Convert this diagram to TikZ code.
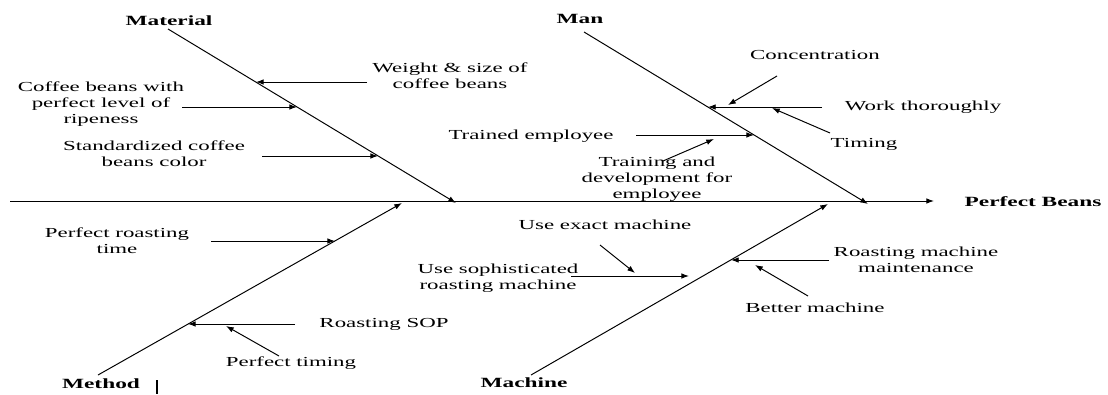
\documentclass[tikz,border=0pt]{standalone}
\usepackage{fontspec}
\setmainfont[FakeStretch=1.66]{Liberation Serif}
\usetikzlibrary{arrows.meta,positioning,calc}

\begin{document}
\begin{tikzpicture}[x=0.025cm,y=-0.025cm,
			cause/.style={align=center,inner sep=0pt,font=\fontsize{9.8}{11.4}\selectfont},
			cat/.style={inner sep=0pt,font=\fontsize{10}{11.4}\selectfont\bfseries},
			bone/.style={-{Latex[length=5.5pt,width=4pt]},line width=0.7pt},
			flow/.style={-{Latex[length=5.5pt,width=4pt]},line width=0.7pt}
			]
			\useasboundingbox (0,0) rectangle (1108,394);
			% spine and effect
			\coordinate (s0) at (10,201);
			\coordinate (s1) at (934,201);
			\node[cat] (eff) at (1033,202) {Perfect Beans};
			\draw[bone] (s0) -- (s1);
			% main bones
			\coordinate (maS) at (168,29);  \coordinate (maE) at (456,203);
			\coordinate (mnS) at (584,32);  \coordinate (mnE) at (868,204);
			\coordinate (mdS) at (98,375);  \coordinate (mdE) at (402,203);
			\coordinate (mcS) at (531,375); \coordinate (mcE) at (828,204);
			\node[cat] (mat) at (169,21) {Material};
			\node[cat] (man) at (580,19) {Man};
			\node[cat] (mtd) at (101,384) {Method};
			\node[cat] (mch) at (524,383) {Machine};
			\draw[bone] (maS) -- (maE);
			\draw[bone] (mnS) -- (mnE);
			\draw[bone] (mdS) -- (mdE);
			\draw[bone] (mcS) -- (mcE);
			% material
			\node[cause] (wgt) at (450,76) {Weight \& size of\\coffee beans};
			\node[cause] (rip) at (101,104) {Coffee beans with\\perfect level of\\ripeness};
			\node[cause] (col) at (154,154) {Standardized coffee\\beans color};
			\coordinate (wgtA) at (367,82);  \coordinate (wgtB) at (256,82);
			\coordinate (ripA) at (182,107); \coordinate (ripB) at (297,107);
			\coordinate (colA) at (262,156); \coordinate (colB) at (378,156);
			\draw[flow] (wgtA) -- (wgtB);
			\draw[flow] (ripA) -- (ripB);
			\draw[flow] (colA) -- (colB);
			% man
			\node[cause] (con) at (815,55) {Concentration};
			\node[cause] (wrk) at (923,107) {Work thoroughly};
			\node[cause] (tim) at (864,144) {Timing};
			\node[cause] (trn) at (531,136) {Trained employee};
			\node[cause] (dev) at (657,179) {Training and\\development for\\employee};
			\coordinate (wrkA) at (822,107); \coordinate (wrkB) at (708,107);
			\coordinate (conA) at (777,76);  \coordinate (conB) at (728,105);
			\coordinate (timA) at (830,133); \coordinate (timB) at (772,108);
			\coordinate (trnA) at (636,135); \coordinate (trnB) at (754,135);
			\coordinate (devA) at (663,161); \coordinate (devB) at (714,139);
			\draw[flow] (wrkA) -- (wrkB);
			\draw[flow] (conA) -- (conB);
			\draw[flow] (timA) -- (timB);
			\draw[flow] (trnA) -- (trnB);
			\draw[flow] (devA) -- (devB);
			% method
			\node[cause] (rst) at (117,241) {Perfect roasting\\time};
			\node[cause] (sop) at (384,324) {Roasting SOP};
			\node[cause] (ptm) at (291,363) {Perfect timing};
			\coordinate (rstA) at (211,241); \coordinate (rstB) at (335,241);
			\coordinate (sopA) at (295,324); \coordinate (sopB) at (188,324);
			\coordinate (ptmA) at (279,356); \coordinate (ptmB) at (226,326);
			\draw[flow] (rstA) -- (rstB);
			\draw[flow] (sopA) -- (sopB);
			\draw[flow] (ptmA) -- (ptmB);
			\coordinate (tk0) at (157,380); \coordinate (tk1) at (157,394);
			\draw[line width=0.8pt] (tk0) -- (tk1);
			% machine
			\node[cause] (exa) at (605,225) {Use exact machine};
			\node[cause] (sph) at (498,278) {Use sophisticated\\roasting machine};
			\node[cause] (mnt) at (916,260) {Roasting machine\\maintenance};
			\node[cause] (bet) at (815,308) {Better machine};
			\coordinate (mntA) at (829,260); \coordinate (mntB) at (731,260);
			\coordinate (betA) at (808,296); \coordinate (betB) at (755,265);
			\coordinate (sphA) at (571,276); \coordinate (sphB) at (689,276);
			\coordinate (exaA) at (600,245); \coordinate (exaB) at (635,273);
			\draw[flow] (mntA) -- (mntB);
			\draw[flow] (betA) -- (betB);
			\draw[flow] (sphA) -- (sphB);
			\draw[flow] (exaA) -- (exaB);
		\end{tikzpicture}
\end{document}
